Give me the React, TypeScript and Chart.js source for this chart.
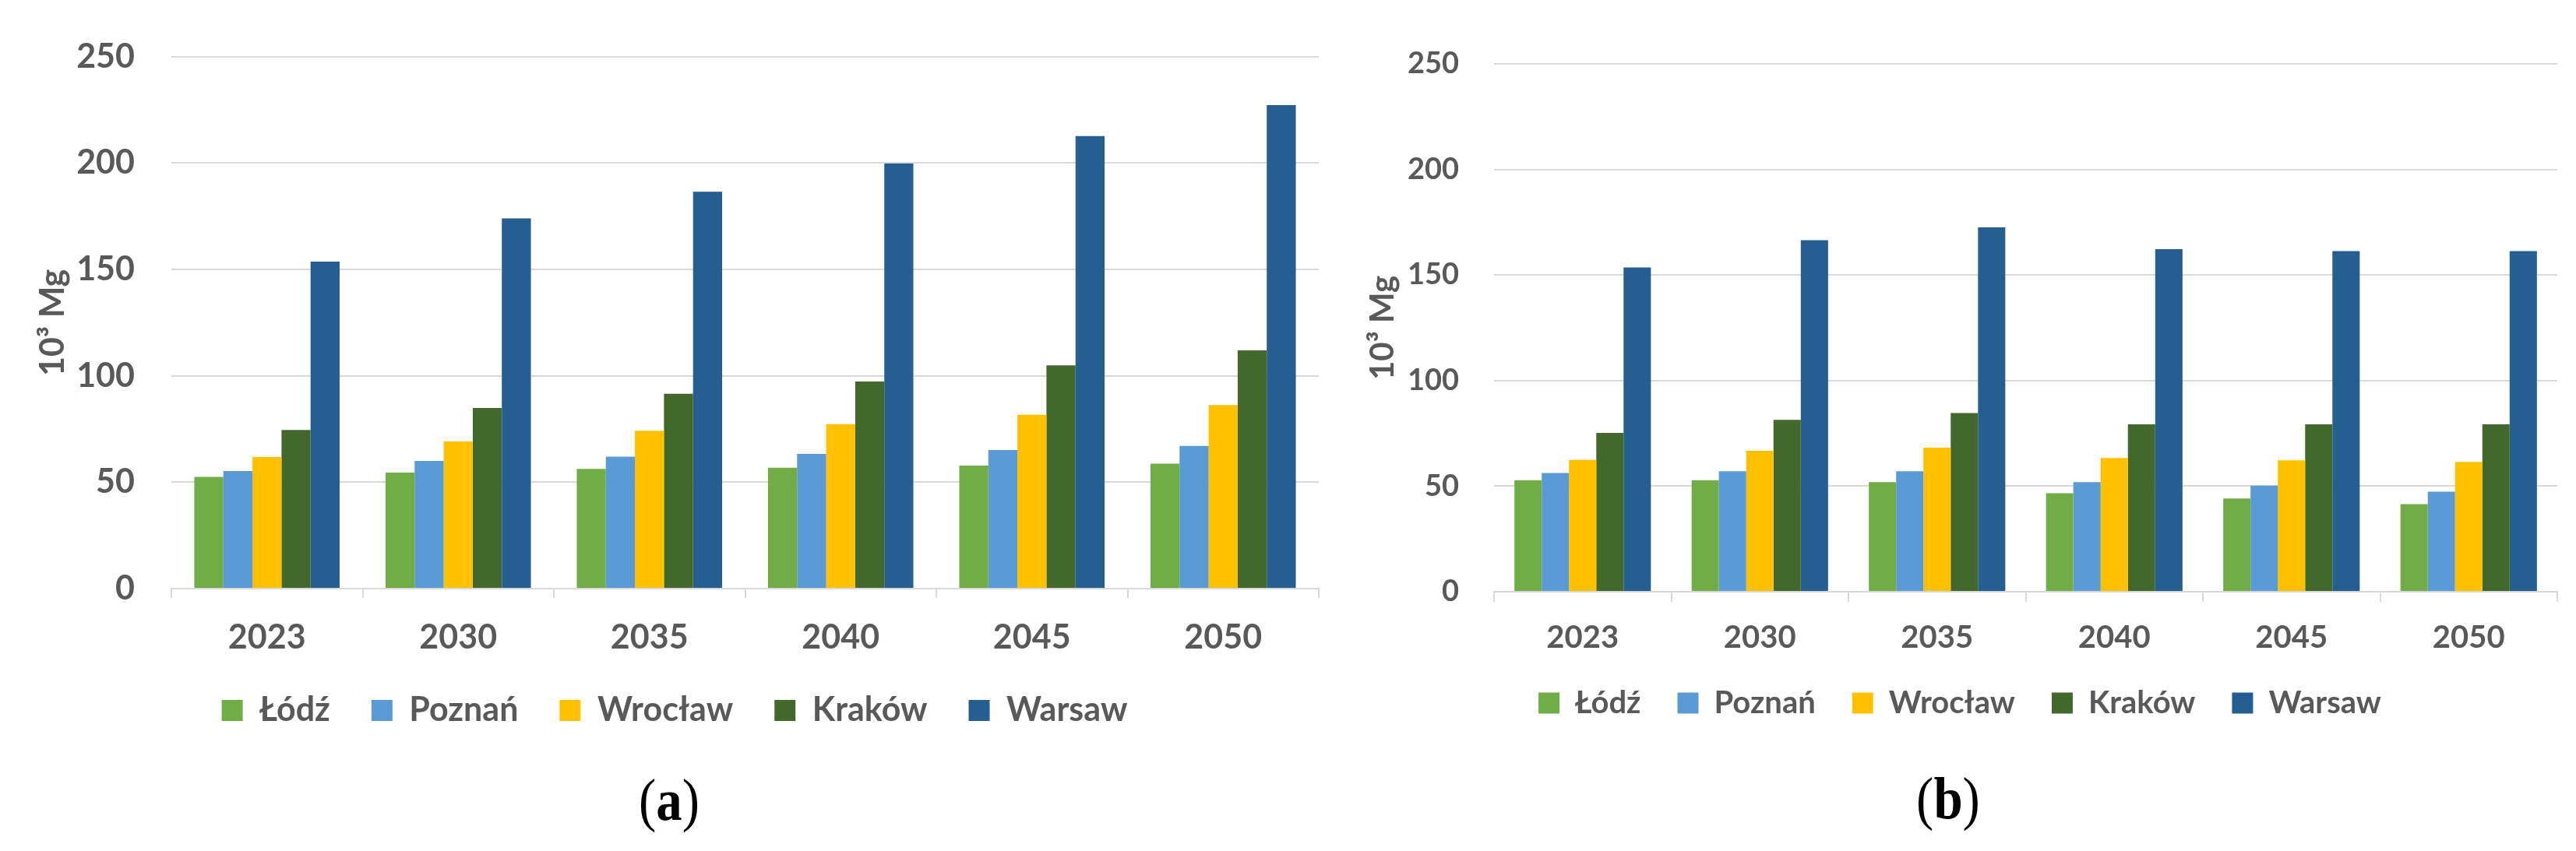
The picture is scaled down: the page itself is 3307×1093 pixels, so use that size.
import React, { useEffect, useRef } from 'react';
import { Chart, registerables } from 'chart.js';

Chart.register(...registerables);

// ---------- data ----------
const years = ['2023', '2030', '2035', '2040', '2045', '2050'];
const cities = ['Łódź', 'Poznań', 'Wrocław', 'Kraków', 'Warsaw'];
const yTicks = [0, 50, 100, 150, 200, 250];
const yTitle = '10³ Mg';

// panel (a)
const lodzA = [52.5, 54.5, 56.3, 56.8, 57.8, 58.7];
const poznanA = [55.3, 60.0, 62.0, 63.3, 65.1, 67.1];
const wroclawA = [61.8, 69.2, 74.2, 77.3, 81.7, 86.3];
const krakowA = [74.6, 84.9, 91.6, 97.3, 104.9, 112.0];
const warsawA = [153.7, 174.0, 186.5, 199.8, 212.7, 227.2];

// panel (b)
const lodzB = [52.8, 52.8, 51.9, 46.6, 44.2, 41.5];
const poznanB = [56.2, 57.1, 57.1, 51.9, 50.2, 47.4];
const wroclawB = [62.4, 66.7, 68.2, 63.3, 62.2, 61.5];
const krakowB = [75.2, 81.4, 84.6, 79.3, 79.3, 79.3];
const warsawB = [153.6, 166.5, 172.6, 162.2, 161.3, 161.3];

// ---------- styles ----------
const colors = ['#70AD47', '#5B9BD5', '#FFC000', '#43682B', '#255E91'];
const textColor = '#595959';
const gridColor = '#D9D9D9';
const family = "Lato, 'Open Sans', sans-serif";

type Spec = {
  series: number[][];
  left: number;
  w: number;
  h: number;
  pad: { left: number; right: number; top: number; bottom: number };
  yW: number;
  yPad: number;
  xH: number;
  xPad: number;
  tickLen: number;
  xFont: number;
  yFont: number;
  legendFont: number;
  titleFont: number;
  titlePad: number;
  legendPad: number;
  catPct: number;
};

function makeConfig(s: Spec): any {
  const f = (size: number) => ({ family, size, weight: 'bold' as const });
  return {
    type: 'bar',
    data: {
      labels: years,
      datasets: cities.map((c, i) => ({
        label: c,
        data: s.series[i],
        backgroundColor: colors[i],
        borderWidth: 0,
        categoryPercentage: s.catPct,
        barPercentage: 1,
      })),
    },
    options: {
      animation: false,
      responsive: false,
      devicePixelRatio: 1,
      layout: { padding: s.pad },
      plugins: {
        legend: {
          position: 'bottom',
          labels: {
            boxWidth: 27,
            boxHeight: 27,
            padding: s.legendPad,
            color: textColor,
            font: f(s.legendFont),
          },
        },
        tooltip: { enabled: false },
      },
      scales: {
        x: {
          grid: {
            display: true,
            drawOnChartArea: false,
            drawTicks: true,
            tickLength: s.tickLen,
            offset: true,
            color: gridColor,
            lineWidth: 2,
          },
          border: { display: true, color: gridColor, width: 2 },
          ticks: { color: textColor, font: f(s.xFont), padding: s.xPad, maxRotation: 0 },
          afterFit: (sc: any) => {
            sc.height = s.xH;
          },
        },
        y: {
          min: 0,
          max: 250,
          afterBuildTicks: (sc: any) => {
            sc.ticks = yTicks.map((v) => ({ value: v }));
          },
          ticks: { color: textColor, font: f(s.yFont), padding: s.yPad },
          grid: { color: gridColor, lineWidth: 2, drawTicks: false },
          border: { display: false },
          title: {
            display: true,
            text: yTitle,
            color: textColor,
            font: f(s.titleFont),
            padding: { top: s.titlePad, bottom: 0 },
          },
          afterFit: (sc: any) => {
            sc.width = s.yW;
          },
        },
      },
    },
  };
}

function Panel({ spec }: { spec: Spec }) {
  const ref = useRef<HTMLCanvasElement>(null);
  useEffect(() => {
    const chart = new Chart(ref.current as HTMLCanvasElement, makeConfig(spec));
    return () => chart.destroy();
  }, [spec]);
  return (
    <canvas
      ref={ref}
      width={spec.w}
      height={spec.h}
      style={{ position: 'absolute', left: spec.left, top: 0, width: spec.w, height: spec.h }}
    />
  );
}

const specA: Spec = {
  series: [lodzA, poznanA, wroclawA, krakowA, warsawA],
  left: 0,
  w: 1720,
  h: 1000,
  pad: { left: 39, right: 27, top: 61, bottom: 56 },
  yW: 181,
  yPad: 47,
  xH: 82,
  xPad: 25,
  tickLen: 12,
  xFont: 43,
  yFont: 43,
  legendFont: 43,
  titleFont: 43,
  titlePad: 3,
  legendPad: 53,
  catPct: 0.76,
};

const specB: Spec = {
  series: [lodzB, poznanB, wroclawB, krakowB, warsawB],
  left: 1720,
  w: 1587,
  h: 1000,
  pad: { left: 29, right: 24, top: 82, bottom: 67 },
  yW: 169,
  yPad: 45,
  xH: 76,
  xPad: 22,
  tickLen: 13,
  xFont: 40,
  yFont: 38,
  legendFont: 40,
  titleFont: 42,
  titlePad: 1,
  legendPad: 47,
  catPct: 0.77,
};

const captionStyle = (x: number, y: number): React.CSSProperties => ({
  position: 'absolute',
  left: x,
  top: y,
  transform: 'translate(-50%, -50%) scaleX(0.88)',
  fontFamily: "'Liberation Serif', 'DejaVu Serif', serif",
  fontSize: 76,
  color: '#000',
  whiteSpace: 'nowrap',
  lineHeight: 1,
});

export default function App() {
  return (
    <div
      style={{
        position: 'absolute',
        left: 0,
        top: 0,
        width: 3307,
        height: 1093,
        background: '#fff',
        overflow: 'hidden',
      }}
    >
      <Panel spec={specA} />
      <Panel spec={specB} />
      <div style={captionStyle(859, 1027)}>
        (<b>a</b>)
      </div>
      <div style={captionStyle(2501, 1025)}>
        (<b>b</b>)
      </div>
    </div>
  );
}
